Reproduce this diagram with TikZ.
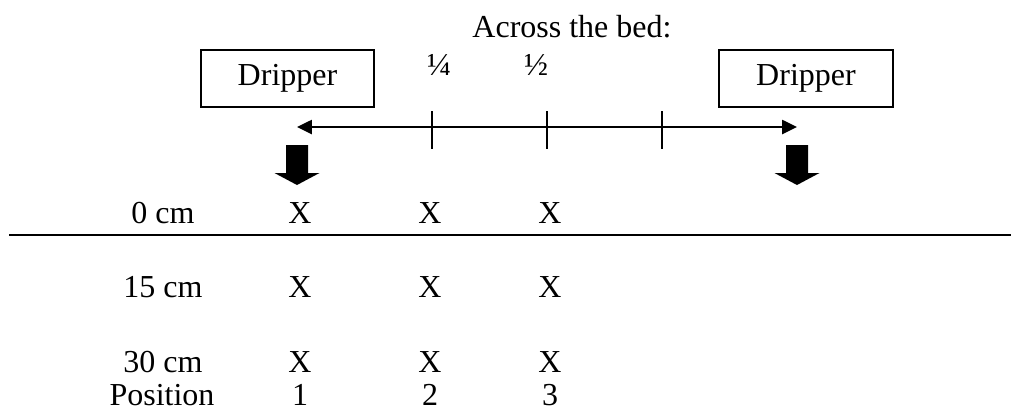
\documentclass[tikz,border=0pt]{standalone}
\usepackage{fontspec}
\setmainfont{Liberation Serif}
\usetikzlibrary{arrows.meta}

\begin{document}
\begin{tikzpicture}[x=0.375pt, y=-0.375pt, font=\fontsize{12}{14}\selectfont,
  dripper/.style={draw, line width=0.75pt, minimum width=65pt, minimum height=21.4pt, inner sep=0pt}]
\useasboundingbox (0,0) rectangle (1011,410);

% Heading
\node[anchor=base] (title) at (572,37) {Across the bed:};

% Drippers
\node[dripper] (dripL) at (287.5,78.5) {Dripper};
\node[dripper] (dripR) at (806,78.5) {Dripper};

% Scale across the bed
\coordinate (bedL) at (297,127);
\coordinate (bedR) at (797,127);
\draw[line width=0.75pt, {Triangle[length=5.6pt,width=5.3pt]}-{Triangle[length=5.6pt,width=5.3pt]}] (bedL) -- (bedR);
\foreach \x in {432, 547, 662} {
    \draw[line width=0.6pt] (\x,111) -- (\x,149);
}
\node[anchor=base] (quarter) at (439,75) {¼};
\node[anchor=base] (half) at (536,75) {½};

% Water going down from the drippers
\foreach \x in {297, 797} {
    \fill (\x-11,145) -- (\x+11,145) -- (\x+11,173) -- (\x+22.5,173) -- (\x,185) -- (\x-22.5,173) -- (\x-11,173) -- cycle;
}

% Soil surface
\draw[line width=0.75pt] (9,235) -- (1011,235);

% Depths
\foreach \y/\depth in {223/0 cm, 297/15 cm, 372/30 cm} {
    \node[anchor=base] (d\y) at (163,\y) {\depth};
    \foreach \x in {300, 430, 550} {
        \node[anchor=base] (x\x\y) at (\x,\y) {X};
    }
}

% Positions
\node[anchor=base] (pos) at (162,405) {Position};
\foreach \x/\n in {300/1, 430/2, 550/3} {
    \node[anchor=base] (p\n) at (\x,405) {\n};
}
\end{tikzpicture}
\end{document}
